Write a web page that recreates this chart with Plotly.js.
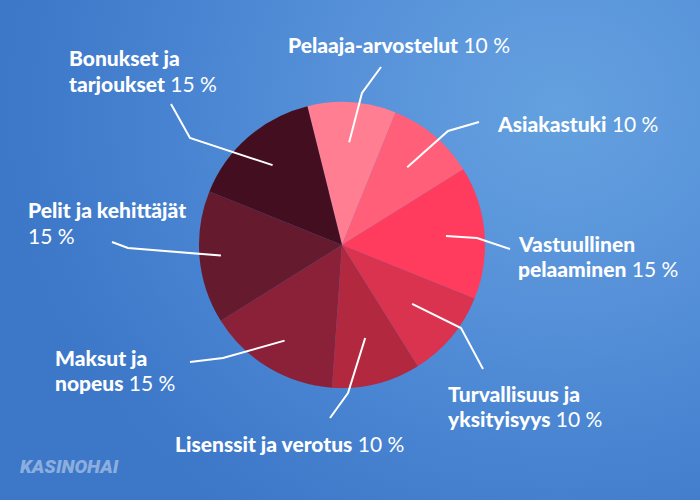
<!DOCTYPE html>
<html>
<head>
<meta charset="utf-8">
<script src="https://cdn.plot.ly/plotly-3.0.1.min.js"></script>
<style>
  html, body { margin: 0; padding: 0; }
  #wrap { width: 700px; height: 500px;
    background: radial-gradient(ellipse 80% 100% at 80% 22%, #64a1df 0%, #5893da 35%, #4884d1 68%, #3c77c8 100%); }
  #chart { width: 700px; height: 500px; }
</style>
</head>
<body>
<div id="wrap"><div id="chart"></div></div>
<script>
// ---- data ----
var categories = [
  "Pelaaja-arvostelut", "Asiakastuki", "Vastuullinen pelaaminen",
  "Turvallisuus ja yksityisyys", "Lisenssit ja verotus", "Maksut ja nopeus",
  "Pelit ja kehittäjät", "Bonukset ja tarjoukset"
];
var shares = [10, 10, 15, 10, 10, 15, 15, 15];
var sliceColors = ["#ff7e91", "#ff5f78", "#ff3c5e", "#da3350", "#b2283f", "#8a2139", "#651a2e", "#430f20"];
// label text split into lines; percent goes on the last line ("" = percent alone)
var labelLines = [
  ["Pelaaja-arvostelut"],
  ["Asiakastuki"],
  ["Vastuullinen", "pelaaminen"],
  ["Turvallisuus ja", "yksityisyys"],
  ["Lisenssit ja verotus"],
  ["Maksut ja", "nopeus"],
  ["Pelit ja kehittäjät", ""],
  ["Bonukset ja", "tarjoukset"]
];

// ---- layout constants (pixels) ----
var W = 700, H = 500;
var cx = 342, cy = 245, R = 143;
var rotation = -14;
var lineGap = 25;
// label anchor (left x, first-line center y) and leader line elbow/end points
var labelPos = [[286, 45], [495, 123], [516, 243], [446, 393], [173, 443], [53, 357], [26, 210], [67, 58]];
var elbows = [[362, 93], [448, 131], [477, 238], [461, 328], [348, 393], [223, 358], [128, 248], [190, 138]];
var ends = [[381, 67], [479, 122], [510, 249], [483, 369], [330, 418], [190, 362], [112, 242], [171, 104]];
var innerFrac = [0.72, 0.71, 0.73, 0.64, 0.67, 0.78, 0.85, 0.74];

function px(x) { return x / W; }
function py(y) { return 1 - y / H; }

var total = shares.reduce(function (a, b) { return a + b; }, 0);
var shapes = [], annotations = [];
var acc = 0;
var labelFont = { family: "Lato, 'Open Sans', sans-serif", size: 21, color: "#ffffff", weight: 400 };
function boldPart(s) { return '<span style="font-weight:900">' + s + '</span>'; }

for (var i = 0; i < shares.length; i++) {
  var mid = rotation + (acc + shares[i] / 2) / total * 360;
  acc += shares[i];
  var a = mid * Math.PI / 180;
  var ix = cx + innerFrac[i] * R * Math.sin(a);
  var iy = cy - innerFrac[i] * R * Math.cos(a);
  var path = "M " + px(ix) + " " + py(iy) + " L " + px(elbows[i][0]) + " " + py(elbows[i][1]) +
             " L " + px(ends[i][0]) + " " + py(ends[i][1]);
  shapes.push({ type: "path", xref: "paper", yref: "paper", path: path,
                line: { color: "#ffffff", width: 2 } });

  var lines = labelLines[i];
  var pct = shares[i] + " %";
  for (var k = 0; k < lines.length; k++) {
    var txt = lines[k] === "" ? pct : boldPart(lines[k]);
    if (k === lines.length - 1 && lines[k] !== "") txt += " " + pct;
    annotations.push({
      xref: "paper", yref: "paper", x: px(labelPos[i][0]), y: py(labelPos[i][1] + k * lineGap),
      xanchor: "left", yanchor: "middle", align: "left", showarrow: false,
      text: txt, font: labelFont
    });
  }
}
annotations.push({
  xref: "paper", yref: "paper", x: px(18), y: py(466), xanchor: "left", yanchor: "middle",
  showarrow: false, text: "KASINOHAI",
  font: { family: "Roboto, sans-serif", size: 19, color: "rgba(255,255,255,0.42)", style: "italic", weight: 900 }
});

var trace = {
  type: "pie",
  labels: categories,
  values: shares,
  sort: false,
  direction: "clockwise",
  rotation: rotation,
  textinfo: "none",
  hoverinfo: "label+percent",
  marker: { colors: sliceColors, line: { width: 0 } },
  domain: { x: [px(cx - R), px(cx + R)], y: [py(cy + R), py(cy - R)] },
  showlegend: false
};

var layout = {
  width: W, height: H,
  margin: { l: 0, r: 0, t: 0, b: 0 },
  paper_bgcolor: "rgba(0,0,0,0)",
  plot_bgcolor: "rgba(0,0,0,0)",
  showlegend: false,
  shapes: shapes,
  annotations: annotations
};

Plotly.newPlot("chart", [trace], layout, { displayModeBar: false, staticPlot: true });
</script>
</body>
</html>
